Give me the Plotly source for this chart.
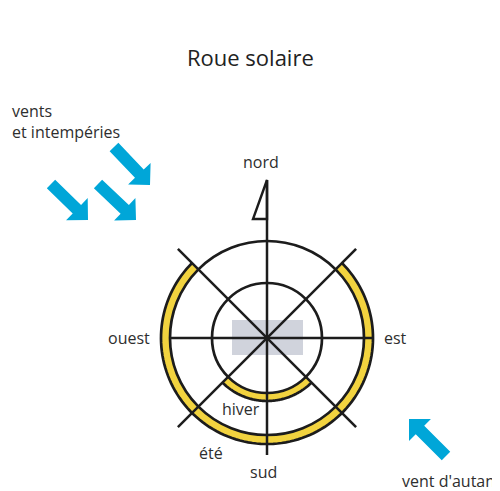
import numpy as np
import plotly.graph_objects as go

# ---- data (screen units, y downward) ----
title_text = "Roue solaire"
center = [267, 338]
circle_radii = [55, 97]            # black circles
diag_angles = [45, 135]            # diagonal spokes (deg, clockwise from east)
diag_len = 126
horiz_len = [96, 105]              # west, east extents
vert_extent = [-158, 117]          # north tip, south end (relative to center)
season_names = ["été", "hiver"]
season_r_in = [97, 55]
season_r_out = [106, 63]
season_start = [-45, 45]
season_end = [225, 135]
compass_labels = ["nord", "ouest", "est", "sud", "été", "hiver"]
compass_x = [261, 129, 395, 263, 211, 241]
compass_y = [162, 338, 338, 472, 453, 409]
flag_pts_x = [0, -14, 0]
flag_pts_y = [-158, -119, -119]
wind_labels = ["vents<br>et intempéries", "vent d'autan"]
wind_label_x = [10, 400]
wind_label_y = [121, 481]
arrow_tail_x = [114, 51, 98, 446]
arrow_tail_y = [147, 184, 184, 456]
arrow_tip_x = [150, 88, 136, 409]
arrow_tip_y = [185, 220, 220, 419]
rect_x = [232, 303]
rect_y = [320, 355]

BLACK = "#1c1c1c"
YELLOW = "#f2d33f"
BLUE = "#00a6d8"
GREY = "#d0d3dc"
TXT = "#2e2e2e"
FONT = "Open Sans"
cx, cy = center
OFF = 8  # page body margin

def P(x, y):
    return f"{x:.2f},{y:.2f}"

shapes = []
shapes.append(dict(type="rect", x0=rect_x[0], x1=rect_x[1], y0=rect_y[0], y1=rect_y[1],
                   fillcolor=GREY, line=dict(width=0), layer="below"))
for rin, rout, a0, a1 in zip(season_r_in, season_r_out, season_start, season_end):
    th = np.radians(np.linspace(a0, a1, 120))
    xo = cx + rout * np.cos(th); yo = cy + rout * np.sin(th)
    xi = cx + rin * np.cos(th[::-1]); yi = cy + rin * np.sin(th[::-1])
    path = "M " + " L ".join(P(a, b) for a, b in zip(np.r_[xo, xi], np.r_[yo, yi])) + " Z"
    shapes.append(dict(type="path", path=path, fillcolor=YELLOW, line=dict(width=0)))
    arc = "M " + " L ".join(P(a, b) for a, b in zip(xo, yo))
    shapes.append(dict(type="path", path=arc, line=dict(color=BLACK, width=2.7)))
for r in circle_radii:
    shapes.append(dict(type="circle", x0=cx - r, x1=cx + r, y0=cy - r, y1=cy + r,
                       line=dict(color=BLACK, width=2.7)))
for a in diag_angles:
    t = np.radians(a)
    shapes.append(dict(type="line", x0=cx - diag_len * np.cos(t), y0=cy - diag_len * np.sin(t),
                       x1=cx + diag_len * np.cos(t), y1=cy + diag_len * np.sin(t),
                       line=dict(color=BLACK, width=2.5)))
shapes.append(dict(type="line", x0=cx - horiz_len[0], x1=cx + horiz_len[1], y0=cy, y1=cy,
                   line=dict(color=BLACK, width=2.5)))
shapes.append(dict(type="line", x0=cx, x1=cx, y0=cy + vert_extent[0], y1=cy + vert_extent[1],
                   line=dict(color=BLACK, width=2.5)))
fp = "M " + " L ".join(P(cx + a, cy + b) for a, b in zip(flag_pts_x, flag_pts_y)) + " Z"
shapes.append(dict(type="path", path=fp, line=dict(color=BLACK, width=2.4)))
for tx, ty, px, py in zip(arrow_tail_x, arrow_tail_y, arrow_tip_x, arrow_tip_y):
    d = np.array([px - tx, py - ty], float); d /= np.linalg.norm(d)
    n = np.array([-d[1], d[0]])
    T = np.array([tx, ty], float); Pt = np.array([px, py], float)
    B = Pt - 15.5 * d
    pts = [T + 6 * n, B + 6 * n, B + 15.5 * n, Pt, B - 15.5 * n, B - 6 * n, T - 6 * n]
    path = "M " + " L ".join(P(*q) for q in pts) + " Z"
    shapes.append(dict(type="path", path=path, fillcolor=BLUE, line=dict(width=0)))

annotations = []
for t, x, y in zip(compass_labels, compass_x, compass_y):
    annotations.append(dict(x=x, y=y, text=t, showarrow=False, xanchor="center", yanchor="middle",
                            font=dict(size=16, color=TXT, family=FONT)))
for t, x, y in zip(wind_labels, wind_label_x, wind_label_y):
    annotations.append(dict(x=x, y=y, text=t, showarrow=False, xanchor="left", yanchor="middle",
                            align="left", font=dict(size=16, color=TXT, family=FONT)))
annotations.append(dict(x=250, y=57, text=title_text, showarrow=False, xanchor="center", yanchor="middle",
                        font=dict(size=22, color="#222222", family=FONT)))

fig = go.Figure()
fig.update_layout(
    width=500, height=491, margin=dict(l=0, r=0, t=0, b=0),
    paper_bgcolor="white", plot_bgcolor="white",
    xaxis=dict(range=[OFF, 500 + OFF], visible=False, fixedrange=True),
    yaxis=dict(range=[491 + OFF, OFF], visible=False, fixedrange=True),
    shapes=shapes, annotations=annotations, showlegend=False,
)
fig.write_html("out.html")
